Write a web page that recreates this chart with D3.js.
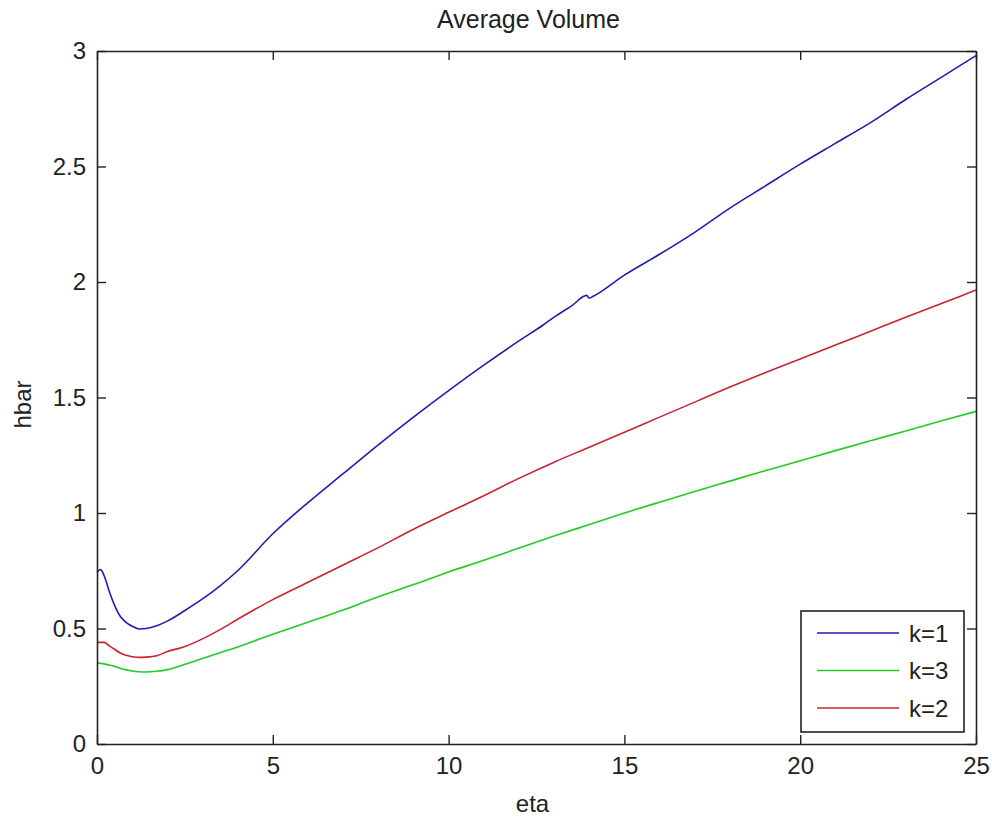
<!DOCTYPE html>
<html>
<head>
<meta charset="utf-8">
<script src="https://cdn.jsdelivr.net/npm/d3@7"></script>
<style>
  body { margin: 0; background: #fff; }
  text { font-family: "Liberation Sans", Arial, sans-serif; fill: #222; }
</style>
</head>
<body>
<svg id="chart" width="992" height="818"></svg>
<script>
// values
var etaBlue = [0, 0.1, 0.2, 0.35, 0.5, 0.65, 0.8, 1.0, 1.2, 1.4, 1.7, 2.0, 2.5, 3, 3.5, 4,
               5, 6, 7, 8, 9, 10, 11, 12, 12.7, 13, 13.5, 13.93, 14.0, 14.1, 15, 16, 17, 18, 19, 20,
               21, 22, 23, 24, 25];
var hbarK1 = [0.745, 0.755, 0.73, 0.66, 0.60, 0.555, 0.53, 0.51, 0.498, 0.50, 0.512, 0.532, 0.578, 0.628, 0.685, 0.75,
              0.91, 1.045, 1.17, 1.295, 1.415, 1.53, 1.64, 1.745, 1.815, 1.848, 1.897, 1.942, 1.93, 1.937, 2.03, 2.12, 2.215, 2.32, 2.415, 2.51,
              2.6, 2.69, 2.79, 2.885, 2.98];

var eta = [0, 0.2, 0.35, 0.5, 0.65, 0.8, 1.0, 1.2, 1.4, 1.7, 2.0, 2.5, 3, 3.5, 4,
           5, 6, 7, 8, 9, 10, 11, 12, 13, 14, 15, 16, 17, 18, 19, 20, 21, 22, 23, 24, 25];
var hbarK2 = [0.44, 0.44, 0.425, 0.41, 0.395, 0.385, 0.378, 0.375, 0.376, 0.382, 0.40, 0.422, 0.455, 0.495, 0.54,
              0.625, 0.70, 0.775, 0.85, 0.93, 1.003, 1.075, 1.15, 1.22, 1.285, 1.35, 1.415, 1.48, 1.545, 1.607, 1.667, 1.727, 1.787, 1.847, 1.906, 1.965];
var hbarK3 = [0.35, 0.347, 0.342, 0.336, 0.328, 0.322, 0.316, 0.313, 0.312, 0.315, 0.322, 0.345, 0.37, 0.395, 0.42,
              0.475, 0.527, 0.58, 0.637, 0.69, 0.745, 0.795, 0.848, 0.9, 0.95, 1.0, 1.047, 1.093, 1.138, 1.183, 1.226, 1.27, 1.313, 1.355, 1.398, 1.44];

var xTicks = [0, 5, 10, 15, 20, 25];
var yTicks = [0, 0.5, 1, 1.5, 2, 2.5, 3];
var legendLabels = ["k=1", "k=3", "k=2"];

var series = [
  {name: "k=1", x: etaBlue, y: hbarK1, color: "#1f1fb0"},
  {name: "k=3", x: eta, y: hbarK3, color: "#22cc22"},
  {name: "k=2", x: eta, y: hbarK2, color: "#cc2233"}
];

var svg = d3.select("#chart");
// plot box (window.top is taken, so own names)
var pLeft = 97, pTop = 51, pRight = 976, pBottom = 744;

var x = d3.scaleLinear().domain([0, 25]).range([pLeft, pRight]);
var y = d3.scaleLinear().domain([0, 3]).range([pBottom, pTop]);

svg.append("rect").attr("width", 992).attr("height", 818).attr("fill", "#fff");

// curves
var line = d3.line().x(d => x(d[0])).y(d => y(d[1])).curve(d3.curveMonotoneX);
series.forEach(function(s){
    svg.append("path")
	.datum(s.x.map((v, i) => [v, s.y[i]]))
	.attr("fill", "none")
	.attr("stroke", s.color)
	.attr("stroke-width", 1.6)
	.attr("d", line);
});

// axes, ticks pointing in, box on
function styleAxis(g){
    g.select(".domain").attr("stroke", "#222").attr("stroke-width", 1.6);
    g.selectAll(".tick line").attr("stroke", "#222").attr("stroke-width", 1.4);
    g.selectAll("text").attr("font-size", 24).attr("fill", "#222")
	.attr("font-family", "'Liberation Sans', Arial, sans-serif");
}
svg.append("g").attr("transform", "translate(0," + pBottom + ")")
    .call(d3.axisBottom(x).tickValues(xTicks).tickSize(-9).tickSizeOuter(0).tickPadding(13).tickFormat(d => String(d)))
    .call(styleAxis);
svg.append("g").attr("transform", "translate(0," + pTop + ")")
    .call(d3.axisTop(x).tickValues(xTicks).tickSize(-9).tickSizeOuter(0).tickFormat(""))
    .call(styleAxis);
svg.append("g").attr("transform", "translate(" + pLeft + ",0)")
    .call(d3.axisLeft(y).tickValues(yTicks).tickSize(-9).tickSizeOuter(0).tickPadding(11).tickFormat(d => String(d)))
    .call(styleAxis);
svg.append("g").attr("transform", "translate(" + pRight + ",0)")
    .call(d3.axisRight(y).tickValues(yTicks).tickSize(-9).tickSizeOuter(0).tickFormat(""))
    .call(styleAxis);

// titles
svg.append("text").attr("x", (pLeft + pRight) / 2 - 8).attr("y", 28)
    .attr("text-anchor", "middle").attr("font-size", 25).text("Average Volume");
svg.append("text").attr("x", (pLeft + pRight) / 2 - 4).attr("y", 812)
    .attr("text-anchor", "middle").attr("font-size", 24).text("eta");
svg.append("text").attr("transform", "translate(31," + ((pTop + pBottom) / 2 + 7) + ") rotate(-90)")
    .attr("text-anchor", "middle").attr("font-size", 24).text("hbar");

// legend
var legend = svg.append("g").attr("transform", "translate(801,611)");
legend.append("rect").attr("width", 163).attr("height", 121)
    .attr("fill", "#fff").attr("stroke", "#222").attr("stroke-width", 1.6);
var rows = legend.selectAll(".row").data(legendLabels).enter().append("g")
    .attr("class", "row")
    .attr("transform", (d, i) => "translate(0," + (22 + i * 37.5) + ")");
rows.append("line").attr("x1", 16).attr("x2", 98)
    .attr("stroke", d => series.find(s => s.name == d).color).attr("stroke-width", 1.6);
rows.append("text").attr("x", 108).attr("dy", "0.36em").attr("font-size", 24).text(d => d);
</script>
</body>
</html>
